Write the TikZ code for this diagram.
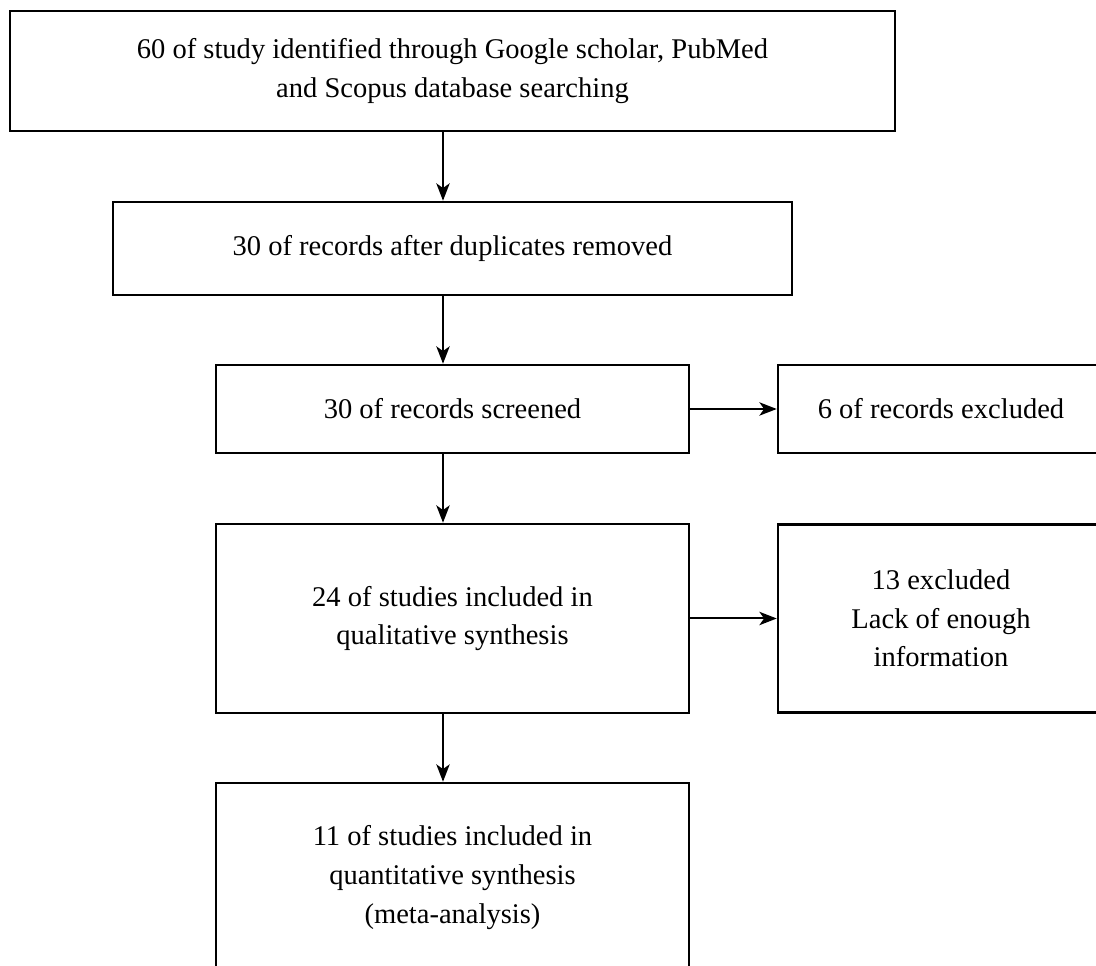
\documentclass[tikz,border=0pt]{standalone}
\usepackage{fontspec}
\setmainfont{Liberation Serif}
\usetikzlibrary{arrows.meta}

\begin{document}
\begin{tikzpicture}[x=0.75pt,y=0.75pt,
    flowbox/.style={draw,line width=1.9pt,inner sep=0pt,align=center,
        font=\fontsize{21.4}{29}\selectfont},
    link/.style={-{Stealth[length=13pt,width=10pt,inset=3.5pt]},line width=1.5pt}]
    \useasboundingbox (0,0) rectangle (1096,966);
    \clip (0,0) rectangle (1096,966);

    \node[flowbox,minimum width=663.75pt,minimum height=90pt] (search) at (452.5,895)
        {60 of study identified through Google scholar, PubMed\\and Scopus database searching};
    \node[flowbox,minimum width=509.25pt,minimum height=69.75pt] (dedup) at (452.5,717.5)
        {30 of records after duplicates removed};
    \node[flowbox,minimum width=354.75pt,minimum height=66pt] (screened) at (452.5,557)
        {30 of records screened};
    \node[flowbox,minimum width=244.5pt,minimum height=66pt] (excluded) at (941,557)
        {6 of records excluded};
    \node[flowbox,minimum width=354.75pt,minimum height=141.75pt] (qual) at (452.5,347.5)
        {24 of studies included in\\qualitative synthesis};
    \node[flowbox,minimum width=244.5pt,minimum height=141pt] (lack) at (941,347.5)
        {13 excluded\\Lack of enough\\information};
    \node[flowbox,minimum width=354.75pt,minimum height=141.75pt] (quant) at (452.5,88.5)
        {11 of studies included in\\quantitative synthesis\\(meta-analysis)};

    \coordinate (spine) at (443,0);
    \draw[link] (search.south -| spine) -- (dedup.north -| spine);
    \draw[link] (dedup.south -| spine) -- (screened.north -| spine);
    \draw[link] (screened.south -| spine) -- (qual.north -| spine);
    \draw[link] (qual.south -| spine) -- (quant.north -| spine);
    \draw[link] (screened.east) -- (excluded.west);
    \draw[link] (qual.east) -- (lack.west);
\end{tikzpicture}
\end{document}
